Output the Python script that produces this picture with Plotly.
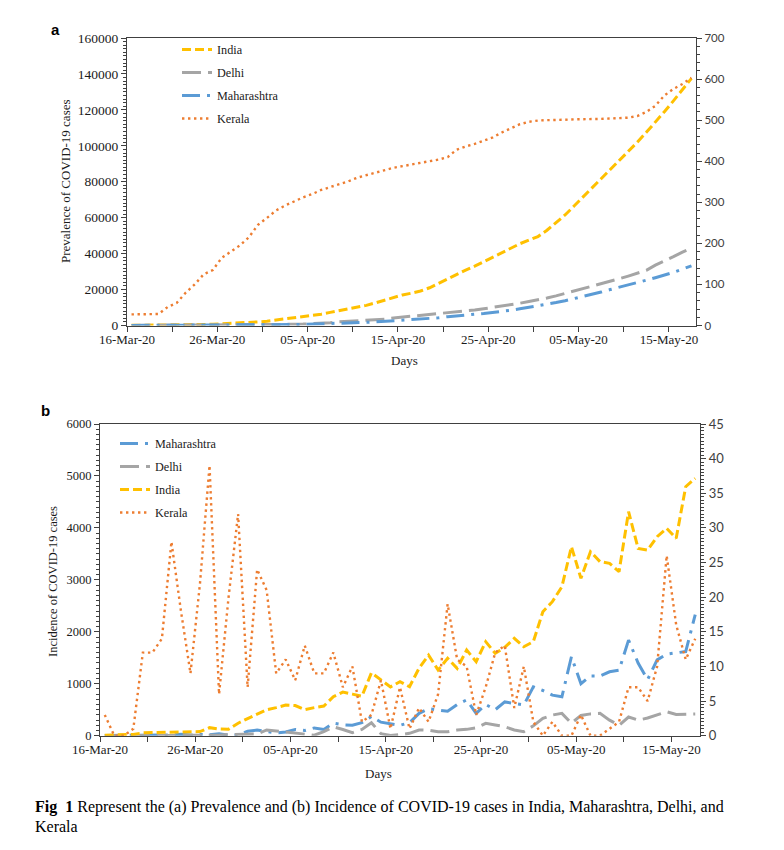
import pandas as pd
import plotly.graph_objects as go

# ---------------- data ----------------
START = "2020-03-16"
N_DAYS = 63
DATES = pd.date_range(START, periods=N_DAYS, freq="D")  # 16-Mar-20 .. 17-May-20

TICK_DATES = pd.date_range(START, periods=13, freq="5D")
TICK_LABELS = ["16-Mar-20", "", "26-Mar-20", "", "05-Apr-20", "", "15-Apr-20", "",
               "25-Apr-20", "", "05-May-20", "", "15-May-20"]

# (a) prevalence  (left axis: India, Delhi, Maharashtra ; right axis: Kerala)
PREV_INDIA = [110, 130, 150, 170, 230, 290, 380, 470, 560, 700,
              880, 1100, 1300, 1600, 2000, 2400, 3000, 3600, 4300, 5000,
              5700, 6300, 7300, 8200, 9000, 10000, 11200, 12600, 14200, 15800,
              17000, 18000, 19200, 21000, 23500, 26000, 28500, 30800, 33000, 35500,
              38000, 40500, 43000, 45500, 47500, 49500, 53000, 57000, 61500, 66500,
              71500, 76500, 81500, 86500, 91500, 96500, 102000, 107500, 113000, 119000,
              125000, 131000, 137500]
PREV_DELHI = [50, 60, 70, 80, 90, 100, 120, 140, 170, 200,
              230, 260, 290, 320, 360, 400, 450, 550, 650, 800,
              950, 1150, 1600, 2100, 2300, 2500, 2700, 2900, 3500, 4200,
              4700, 5000, 5300, 5800, 6400, 7000, 7500, 8000, 8600, 9300,
              10000, 10800, 11600, 12400, 13300, 14200, 15300, 16500, 17800, 19200,
              20700, 22000, 23300, 24600, 26000, 27500, 29000, 30700, 33600, 35800,
              38300, 40800, 43000]
PREV_MAHARASHTRA = [40, 45, 50, 55, 65, 75, 85, 100, 110, 130,
                    150, 170, 200, 230, 270, 320, 380, 450, 550, 650,
                    750, 850, 1000, 1150, 1300, 1500, 1750, 2000, 2300, 2700,
                    3000, 3200, 3400, 3800, 4300, 4900, 5500, 5900, 6300, 6700,
                    7200, 7800, 8500, 9300, 10100, 11000, 11900, 12800, 13800, 14900,
                    16000, 17300, 18600, 20000, 21200, 22500, 23800, 25200, 26600, 28000,
                    29600, 31400, 33200]
PREV_KERALA = [27, 27, 27, 28, 45, 55, 80, 100, 125, 135,
               165, 180, 195, 215, 245, 262, 280, 292, 303, 312,
               320, 330, 337, 344, 351, 360, 366, 371, 378, 384,
               388, 392, 396, 400, 404, 410, 428, 436, 442, 450,
               458, 470, 481, 490, 496, 499, 500, 500, 501, 502,
               502, 503, 503, 504, 505, 506, 510, 520, 535, 560,
               576, 588, 603]

# (b) incidence  (left axis: Maharashtra, Delhi, India ; right axis: Kerala)
INC_MAHARASHTRA = [5, 6, 3, 7, 3, 11, 7, 15, 30, 13,
                   25, 16, 36, 10, 12, 85, 110, 80, 50, 70,
                   120, 100, 150, 120, 240, 210, 200, 250, 370, 260,
                   230, 200, 250, 430, 520, 490, 470, 600, 690, 430,
                   600, 500, 650, 620, 590, 940, 870, 780, 750, 1520,
                   1000, 1150, 1150, 1230, 1260, 1840, 1400, 1080, 1460, 1570,
                   1590, 1620, 2330]
INC_DELHI = [0, 1, 1, 2, 2, 3, 3, 2, 6, 4,
             3, 6, 10, 23, 25, 20, 32, 110, 90, 60,
             50, 20, 10, 77, 170, 120, 58, 120, 250, 40,
             5, 20, 45, 110, 105, 77, 77, 109, 122, 150,
             237, 205, 173, 110, 77, 190, 334, 398, 430, 240,
             390, 420, 430, 300, 200, 360, 300, 340, 400, 462,
             410, 420, 417]
INC_INDIA = [10, 15, 15, 25, 55, 60, 65, 70, 75, 70,
             80, 155, 130, 125, 240, 330, 420, 500, 540, 590,
             580, 500, 540, 570, 750, 840, 800, 760, 1210, 1070,
             940, 1040, 943, 1300, 1550, 1264, 1489, 1296, 1649, 1425,
             1810, 1585, 1700, 1874, 1713, 1810, 2387, 2580, 2868, 3638,
             3029, 3542, 3350, 3318, 3157, 4312, 3606, 3574, 3831, 3991,
             3799, 4793, 4954]
INC_KERALA = [3, 0, 0, 1, 12, 12, 14, 28, 18, 9,
              22, 39, 6, 20, 32, 7, 24, 21, 9, 11,
              8, 13, 9, 9, 12, 7, 10, 2, 3, 8,
              1, 7, 1, 4, 2, 6, 19, 11, 10, 3,
              7, 12, 13, 4, 10, 2, 0, 2, 0, 0,
              3, 0, 0, 1, 2, 7, 7, 5, 10, 26,
              16, 11, 14]

CAPTION_LINES = [
    "<b>Fig\u00a0 1</b> Represent the (a) Prevalence and (b) Incidence of COVID-19 cases in India, "
    "Maharashtra, Delhi, and",
    "Kerala",
]

# ---------------- styles ----------------
PAGE_MARGIN = 8           # default body margin of the html page
W, H = 784 - PAGE_MARGIN, 850 - PAGE_MARGIN
SERIF = "Liberation Serif"
SANS = "Lato"
AXC = "#404040"
TXT = "#1a1a1a"

C_INDIA = "#FFC000"
C_DELHI = "#A5A5A5"
C_MAHA = "#5B9BD5"
C_KERALA = "#ED7D31"

STY = {
    "India": dict(color=C_INDIA, width=3, dash="9px,4px"),
    "Delhi": dict(color=C_DELHI, width=3, dash="19px,7px"),
    "Maharashtra": dict(color=C_MAHA, width=3, dash="18px,7px,3px,7px"),
    "Kerala": dict(color=C_KERALA, width=2.4, dash="2.4px,3.6px"),
}


def hx(p):
    """window pixel x -> paper fraction"""
    return (p - PAGE_MARGIN) / W


def hy(p):
    """window pixel y -> paper fraction"""
    return 1 - (p - PAGE_MARGIN) / H


HALF = pd.Timedelta(hours=12)
# each day is a category slot; points sit in the middle of their slot,
# tick marks and labels sit on the slot boundaries (Excel-style)
x_range = [DATES[0] - HALF, DATES[-1] + HALF]
tick_pos = [d - HALF for d in TICK_DATES]

fig = go.Figure()

panel_a = [("India", PREV_INDIA, "y"), ("Delhi", PREV_DELHI, "y"),
           ("Maharashtra", PREV_MAHARASHTRA, "y"), ("Kerala", PREV_KERALA, "y2")]
for k, (name, vals, ya) in enumerate(panel_a):
    fig.add_trace(go.Scatter(x=DATES, y=vals, xaxis="x", yaxis=ya, mode="lines",
                             name=name, line=STY[name], legend="legend",
                             legendgroup=f"a{k}", hoverinfo="skip"))

panel_b = [("Maharashtra", INC_MAHARASHTRA, "y3"), ("Delhi", INC_DELHI, "y3"),
           ("India", INC_INDIA, "y3"), ("Kerala", INC_KERALA, "y4")]
for k, (name, vals, ya) in enumerate(panel_b):
    fig.add_trace(go.Scatter(x=DATES, y=vals, xaxis="x3", yaxis=ya, mode="lines",
                             name=name, line=STY[name], legend="legend2",
                             legendgroup=f"b{k}", hoverinfo="skip"))

axis_common = dict(showline=True, linecolor=AXC, linewidth=1.2, ticks="outside",
                   ticklen=5, tickcolor=AXC, tickwidth=1, showgrid=False, zeroline=False,
                   automargin=False)

xa_dom = [hx(127), hx(696)]
ya_dom = [hy(325.5), hy(38)]
xb_dom = [hx(100), hx(700)]
yb_dom = [hy(735.7), hy(424)]

xtick = dict(type="date", tickmode="array", tickvals=tick_pos, ticktext=TICK_LABELS,
             range=x_range, mirror=True, ticklabelstandoff=-3,
             tickfont=dict(family=SERIF, size=13, color=TXT))

legend_common = dict(xanchor="left", yanchor="top", bgcolor="rgba(0,0,0,0)",
                     font=dict(family=SERIF, size=12.2, color=TXT), traceorder="grouped",
                     tracegroupgap=4, itemwidth=30)

fig.update_layout(
    width=W, height=H, margin=dict(l=0, r=0, t=0, b=0, autoexpand=False),
    paper_bgcolor="white", plot_bgcolor="white", showlegend=True,
    xaxis=dict(domain=xa_dom, anchor="y", **xtick, **axis_common),
    yaxis=dict(domain=ya_dom, anchor="x", range=[0, 160000], dtick=20000, tickformat="d",
               minor=dict(dtick=2000, ticks="outside", ticklen=3, tickcolor=AXC),
               tickfont=dict(family=SERIF, size=13.5, color=TXT), **axis_common),
    yaxis2=dict(overlaying="y", anchor="x", side="right", range=[0, 700], dtick=100,
                minor=dict(dtick=20, ticks="outside", ticklen=3, tickcolor=AXC),
                tickfont=dict(family=SANS, size=11.5, color=AXC), **axis_common),
    xaxis3=dict(domain=xb_dom, anchor="y3", **xtick, **axis_common),
    yaxis3=dict(domain=yb_dom, anchor="x3", range=[0, 6000], dtick=1000, tickformat="d",
                minor=dict(dtick=100, ticks="outside", ticklen=3, tickcolor=AXC),
                tickfont=dict(family=SERIF, size=12.5, color=TXT), **axis_common),
    yaxis4=dict(overlaying="y3", anchor="x3", side="right", range=[0, 45], dtick=5,
                minor=dict(dtick=0.5, ticks="outside", ticklen=3, tickcolor=AXC),
                tickfont=dict(family=SANS, size=13, color=AXC), **axis_common),
    legend=dict(x=hx(177), y=hy(35), **legend_common),
    legend2=dict(x=hx(115), y=hy(429), **legend_common),
)

ann = [
    dict(text="<b>a</b>", x=hx(55), y=hy(30), font=dict(family="Liberation Sans", size=15, color="black")),
    dict(text="<b>b</b>", x=hx(45), y=hy(410), font=dict(family="Liberation Sans", size=15, color="black")),
    dict(text="Prevalence of COVID-19 cases", x=hx(65), y=hy(181), textangle=-90,
         font=dict(family=SERIF, size=13, color=TXT)),
    dict(text="Days", x=hx(405), y=hy(360), font=dict(family=SERIF, size=13, color=TXT)),
    dict(text="Incidence of COVID-19 cases", x=hx(53), y=hy(582), textangle=-90,
         font=dict(family=SERIF, size=12.5, color=TXT)),
    dict(text="Days", x=hx(378), y=hy(773), font=dict(family=SERIF, size=13, color=TXT)),
]
for a in ann:
    fig.add_annotation(xref="paper", yref="paper", showarrow=False,
                       xanchor="center", yanchor="middle", **a)

for line, ypix in zip(CAPTION_LINES, [807, 826]):
    fig.add_annotation(xref="paper", yref="paper", showarrow=False, x=hx(33), y=hy(ypix),
                       xanchor="left", yanchor="middle", align="left", text=line,
                       font=dict(family=SERIF, size=16, color="black"))

fig.write_html("out.html")
